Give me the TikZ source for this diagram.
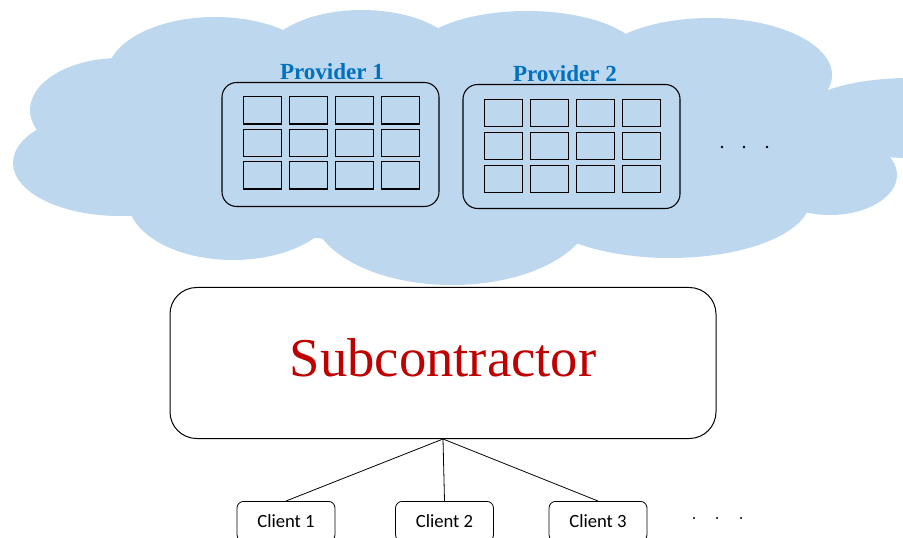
\documentclass[tikz,border=0pt]{standalone}
\usepackage{fontspec}
\setmainfont{Liberation Serif}
\newfontfamily\clientfont{Carlito}
\usetikzlibrary{positioning}
\definecolor{cloudblue}{RGB}{189,215,238}
\definecolor{provblue}{RGB}{0,112,192}
\definecolor{subred}{RGB}{192,0,0}

\begin{document}
\begin{tikzpicture}[
			x=0.75pt, y=-0.75pt,
			cloudpart/.style={fill=cloudblue, draw=none},
			provbox/.style={rectangle, draw, line width=0.8pt, rounded corners=11pt, minimum width=162.75pt, minimum height=93pt},
			cell/.style={rectangle, draw, line width=1pt, inner sep=0pt, minimum width=28.5pt, minimum height=20.5pt},
			provlabel/.style={inner sep=0pt, text=provblue, font=\bfseries\fontsize{17.3}{20}\selectfont},
			subbox/.style={rectangle, draw, line width=0.75pt, rounded corners=20pt, minimum width=409.5pt, minimum height=113.25pt, text depth=8.5pt, text=subred, font=\fontsize{41}{48}\selectfont},
			client/.style={rectangle, draw, line width=0.6pt, rounded corners=5pt, minimum width=73.5pt, minimum height=30pt, font=\clientfont\fontsize{14}{16}\selectfont},
			conn/.style={draw, line width=0.6pt}
			]
			\useasboundingbox (0,0) rectangle (903,538);
			\clip (0,0) rectangle (903,538);
			\fill[cloudpart] (460,150) ellipse [x radius=380, y radius=95];
			\fill[cloudpart] (215,75) ellipse [x radius=108, y radius=58];
			\fill[cloudpart] (362,62) ellipse [x radius=100, y radius=52];
			\fill[cloudpart] (527,58) ellipse [x radius=115, y radius=47];
			\fill[cloudpart] (710,75) ellipse [x radius=122, y radius=57];
			\fill[cloudpart] (910,118) ellipse [x radius=115, y radius=40];
			\fill[cloudpart] (830,175) ellipse [x radius=67, y radius=40];
			\fill[cloudpart] (670,200) ellipse [x radius=140, y radius=58];
			\fill[cloudpart] (452,210) ellipse [x radius=140, y radius=75];
			\fill[cloudpart] (233,200) ellipse [x radius=105, y radius=60];
			\fill[cloudpart] (120,110) ellipse [x radius=90, y radius=52];
			\fill[cloudpart] (120,163) ellipse [x radius=107, y radius=53];
			\node[provbox] (p1) at (330.5,144.5) {};
			\node[provbox] (p2) at (571.5,146.5) {};
			\node[provlabel] (l1) at (332,72) {Provider 1};
			\node[provlabel] (l2) at (565,74) {Provider 2};
			\foreach \i in {0,...,3}
				\foreach \j in {0,...,2} {
					\node[cell] (a\i\j) at (262.5+46*\i,110.5+32.5*\j) {};
					\node[cell] (b\i\j) at (503.5+46*\i,113+33*\j) {};
				}
			\foreach \x in {722,744,767}
				\fill (\x,147) circle (1pt);
			\node[subbox] (sc) at (443,363) {Subcontractor};
			\node[client, anchor=north] (c1) at (286,501) {Client 1};
			\node[client, anchor=north] (c2) at (444.5,501) {Client 2};
			\node[client, anchor=north] (c3) at (598,501) {Client 3};
			\foreach \x in {694,717,741}
				\fill (\x,518) circle (0.9pt);
			\draw[conn] (sc.south) -- (c1.north);
			\draw[conn] (sc.south) -- (c2.north);
			\draw[conn] (sc.south) -- (c3.north);
		\end{tikzpicture}
\end{document}
